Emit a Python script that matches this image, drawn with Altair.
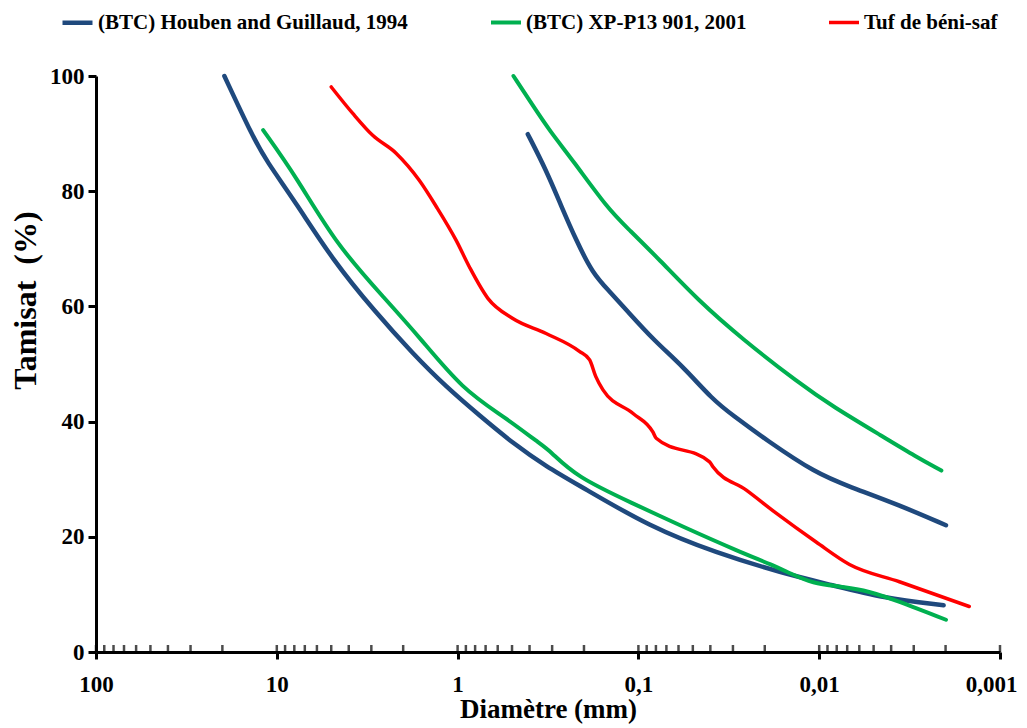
import altair as alt
import pandas as pd

# ---- data ----
series_names = ["(BTC) Houben and Guillaud, 1994", "(BTC) XP-P13 901, 2001", "Tuf de béni-saf"]
series_colors = ["#1F497D", "#00B050", "#FF0000"]
series_widths = [4.5, 3.5, 2.8]

houben_coarse_d = [19.5, 13.6, 11.5, 7.8, 4.92, 2.85, 1.77, 1.156, 0.74, 0.497, 0.324, 0.204,
                   0.0867, 0.0371, 0.016, 0.00844, 0.00447, 0.00205]
houben_coarse_p = [100, 89.5, 85.4, 77.9, 68.1, 59.0, 51.8, 46.0, 40.8, 36.3, 32.2, 28.6,
                   21.75, 17.2, 13.7, 11.6, 9.4, 8.1]

houben_fine_d = [0.409, 0.324, 0.267, 0.221, 0.179, 0.1445, 0.1167, 0.0815, 0.0568, 0.0388,
                 0.0301, 0.0196, 0.0104, 0.0068, 0.0036, 0.00199]
houben_fine_p = [89.9, 83.7, 77.4, 71.5, 65.7, 62.6, 59.4, 54.0, 49.6, 43.8,
                 41.1, 36.8, 31.0, 28.7, 25.5, 22.0]

xp_coarse_d = [11.9, 7.8, 4.69, 2.48, 1.63, 0.935, 0.55, 0.352, 0.31, 0.221, 0.1074, 0.0568,
               0.0276, 0.0181, 0.01459, 0.01084, 0.00772, 0.00574, 0.00408, 0.00199]
xp_coarse_p = [90.6, 82.5, 70.7, 61.1, 54.7, 45.5, 40.8, 36.2, 35.0, 30.4, 25.8, 21.75,
               17.4, 15.1, 13.7, 11.9, 11.4, 10.8, 9.4, 5.6]

xp_fine_d = [0.491, 0.384, 0.310, 0.231, 0.1477, 0.1167, 0.0764, 0.0469, 0.0268, 0.01285,
             0.0084, 0.00445, 0.00291, 0.00211]
xp_fine_p = [100, 94.9, 90.5, 85.4, 77.0, 73.8, 68.1, 61.1, 54.4, 46.6,
             42.6, 37.4, 33.9, 31.5]

tuf_d = [5.0, 3.80, 2.95, 2.19, 1.63, 1.31, 1.02, 0.859, 0.68, 0.495, 0.324, 0.212, 0.186,
         0.172, 0.157, 0.107, 0.0832, 0.0797, 0.0404, 0.0388, 0.0253, 0.0173, 0.0104,
         0.0068, 0.0036, 0.00148]
tuf_p = [98.1, 93.5, 89.7, 86.6, 81.9, 77.3, 71.5, 66.8, 61.4, 57.9, 55.3, 52.2, 50.7,
         47.8, 45.5, 41.4, 38.2, 37.1, 33.0, 32.2, 28.1, 24.1, 19.1,
         15.2, 12.2, 7.9]

major_ticks = [100, 10, 1, 0.1, 0.01, 0.001]
minor_ticks = [k * 10.0 ** e for e in range(-3, 2) for k in range(2, 10)]
y_ticks = [0, 20, 40, 60, 80, 100]

# ---- build tables ----
def table(series, curve, ds, ps):
    return pd.DataFrame({"series": series, "curve": curve, "d": ds, "p": ps})

btc_df = pd.concat([
    table(series_names[0], "h1", houben_coarse_d, houben_coarse_p),
    table(series_names[0], "h2", houben_fine_d, houben_fine_p),
    table(series_names[1], "x1", xp_coarse_d, xp_coarse_p),
    table(series_names[1], "x2", xp_fine_d, xp_fine_p),
], ignore_index=True)
tuf_df = table(series_names[2], "t", tuf_d, tuf_p)

ticks_df = pd.DataFrame({"d": major_ticks + minor_ticks,
                         "p": [0] * (len(major_ticks) + len(minor_ticks))})

FONT = "Liberation Serif"

x_scale = alt.Scale(type="log", domain=[0.001, 100], reverse=True, nice=False)
y_scale = alt.Scale(domain=[0, 100], nice=False)

x_axis = alt.Axis(values=major_ticks, title="Diamètre (mm)",
                  labelExpr="replace(format(datum.value, '~g'), '.', ',')",
                  labelFlush=False, labelOverlap=False, grid=False,
                  labelOffset={"condition": {"test": "datum.value < 0.002", "value": -9},
                               "value": 0},
                  domainColor="black", domainWidth=3, tickColor="black", tickWidth=3,
                  tickSize=7, labelPadding=14, titleY=44, titleBaseline="top",
                  labelFont=FONT, labelFontSize=23, labelFontWeight="bold", labelColor="black",
                  titleFont=FONT, titleFontSize=27, titleFontWeight="bold", titleColor="black")
y_axis = alt.Axis(values=y_ticks, title="Tamisat \u00a0(%)", grid=False,
                  domainColor="black", domainWidth=3, tickColor="black", tickWidth=3,
                  tickSize=8, labelPadding=4,
                  labelFont=FONT, labelFontSize=23, labelFontWeight="bold", labelColor="black",
                  titleFont=FONT, titleFontSize=32, titleFontWeight="bold", titleColor="black",
                  titleX=-54, titleY=224, titleBaseline="bottom")

color_enc = alt.Color("series:N", sort=series_names,
                      scale=alt.Scale(domain=series_names, range=series_colors),
                      legend=alt.Legend(title=None, orient="none", direction="horizontal",
                                        legendX=-36, legendY=-71,
                                        symbolType="stroke", symbolSize=900,
                                        symbolStrokeWidth=5, labelOffset=3,
                                        columnPadding=75, padding=0,
                                        labelFont=FONT, labelFontSize=21,
                                        labelFontWeight="bold", labelColor="black",
                                        labelLimit=0))
width_enc = alt.StrokeWidth("series:N", sort=series_names,
                            scale=alt.Scale(domain=series_names, range=series_widths),
                            legend=None)

btc_lines = alt.Chart(btc_df).mark_line(interpolate="basis", strokeCap="round").encode(
    x=alt.X("d:Q", scale=x_scale, axis=x_axis),
    y=alt.Y("p:Q", scale=y_scale, axis=y_axis),
    color=color_enc,
    strokeWidth=width_enc,
    detail="curve:N",
)

tuf_line = alt.Chart(tuf_df).mark_line(interpolate="monotone", strokeCap="round").encode(
    x=alt.X("d:Q", scale=x_scale, axis=x_axis),
    y=alt.Y("p:Q", scale=y_scale, axis=y_axis),
    color=color_enc,
    strokeWidth=width_enc,
    detail="curve:N",
)

ticks = alt.Chart(ticks_df).mark_tick(orient="vertical", size=7, thickness=2.5,
                                      yOffset=-3.5, color="black").encode(
    x=alt.X("d:Q", scale=x_scale, axis=x_axis),
    y=alt.Y("p:Q", scale=y_scale, axis=y_axis),
)

chart = alt.layer(btc_lines, tuf_line, ticks).properties(
    width=904, height=576,
    background="white",
    autosize=alt.AutoSizeParams(type="none"),
    padding={"left": 88, "top": 68, "right": 19, "bottom": 76},
).configure_view(strokeWidth=0).configure_axis(grid=False)

chart.save("out.html", embed_options={"renderer": "svg", "actions": False})
